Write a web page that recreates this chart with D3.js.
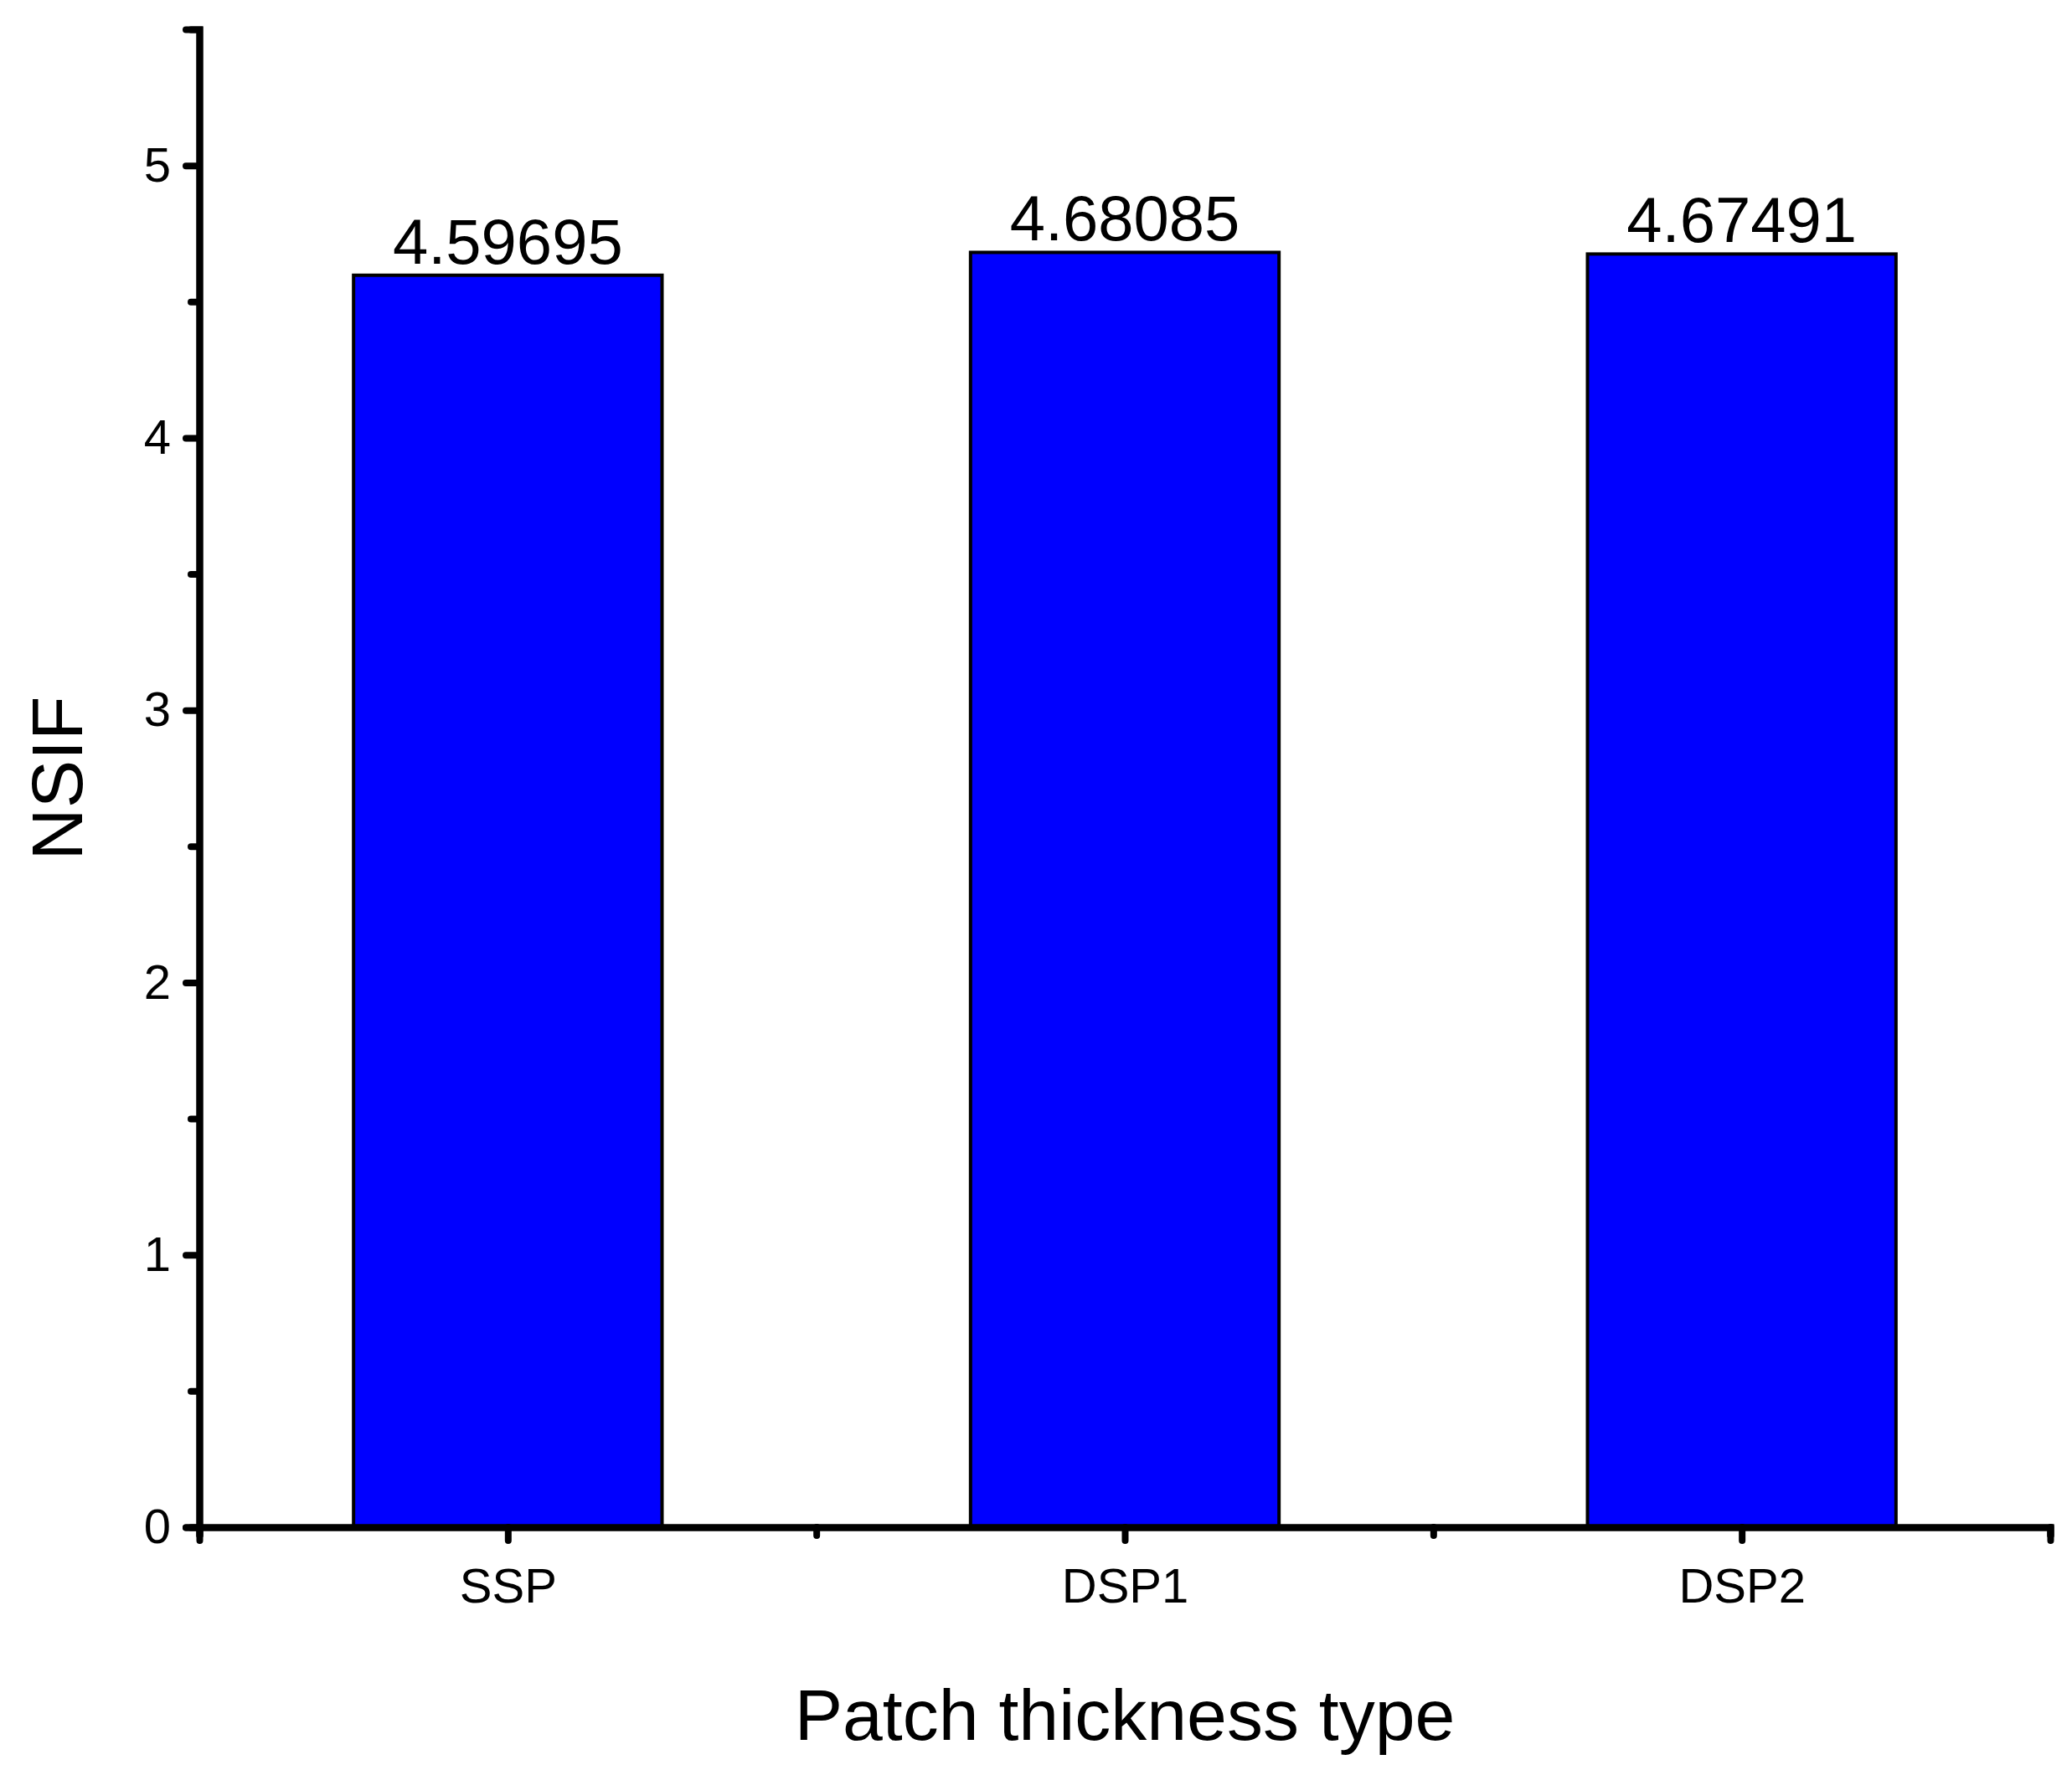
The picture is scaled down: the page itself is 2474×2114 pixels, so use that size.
<!DOCTYPE html>
<html><head><meta charset="utf-8">
<script src="https://cdn.jsdelivr.net/npm/d3@7"></script>
<style>body{margin:0;background:#fff}text{font-family:"Liberation Sans",Arial,sans-serif}</style>
</head><body><svg id="chart" width="2474" height="2114"></svg>
<script>
// chart data
const categories = ["SSP", "DSP1", "DSP2"];
const nsif = [4.59695, 4.68085, 4.67491];
const yTicks = [0, 1, 2, 3, 4, 5];

const svg = d3.select("#chart");
const x0 = 238, x1 = 2448, yTop = 35, yZero = 1824;

let x = d3.scaleLinear().domain([0.5, 3.5]).range([x0, x1]);
let y = d3.scaleLinear().domain([0, 5.5]).range([yZero, yTop]);

// bars
svg.selectAll("rect.bar").data(nsif).enter().append("rect")
  .attr("class", "bar")
  .attr("x", (d, i) => x(i + 1 - 0.25))
  .attr("width", x(1.25) - x(0.75))
  .attr("y", d => y(d))
  .attr("height", d => y(0) - y(d))
  .style("fill", "#0000ff")
  .style("stroke", "#000")
  .style("stroke-width", 4);

svg.selectAll("text.val").data(nsif).enter().append("text")
  .attr("class", "val")
  .attr("x", (d, i) => x(i + 1))
  .attr("y", d => y(d) - 14)
  .attr("text-anchor", "middle")
  .attr("font-size", 76)
  .text(d => d.toFixed(5));

// y axis
let yAxis = d3.axisLeft(y).tickValues(yTicks).tickSize(16).tickPadding(18).tickFormat(d3.format("d"));
let gy = svg.append("g").attr("transform", `translate(${x0},0)`).call(yAxis);
gy.selectAll(".tick").filter(d => false).remove();
let yMinor = d3.axisLeft(y).tickValues(d3.range(0.5, 5.5, 1)).tickSize(10).tickFormat("");
svg.append("g").attr("transform", `translate(${x0},0)`).call(yMinor);

// x axis
let xAxis = d3.axisBottom(x).tickValues([1, 2, 3]).tickSize(16).tickPadding(22)
  .tickFormat((d) => categories[d - 1]);
let gx = svg.append("g").attr("transform", `translate(0,${yZero})`).call(xAxis);
let xMinor = d3.axisBottom(x).tickValues([0.5, 1.5, 2.5, 3.5]).tickSize(10).tickFormat("");
svg.append("g").attr("transform", `translate(0,${yZero})`).call(xMinor);

svg.selectAll(".domain").attr("stroke-width", 8).attr("stroke-linecap", "round");
svg.selectAll(".tick line").attr("stroke-width", 8).attr("stroke-linecap", "round");
svg.selectAll(".tick text").attr("font-size", 58).attr("fill", "#000")
  .attr("font-family", "'Liberation Sans', Arial, sans-serif");
gx.selectAll(".tick text").attr("dy", "0.9em");

// axis titles
svg.append("text").attr("x", (x0 + x1) / 2).attr("y", 2078)
  .attr("text-anchor", "middle").attr("font-size", 86).text("Patch thickness type");
svg.append("text").attr("transform", `translate(98,${(yTop + yZero) / 2}) rotate(-90)`)
  .attr("text-anchor", "middle").attr("font-size", 86).text("NSIF");
</script></body></html>
